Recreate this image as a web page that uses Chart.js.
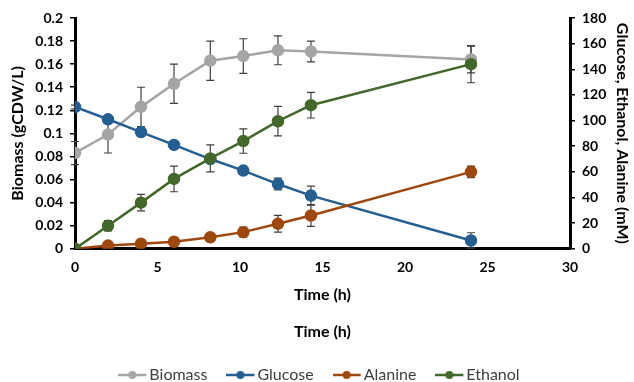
<!DOCTYPE html>
<html>
<head>
<meta charset="utf-8">
<script src="https://cdn.jsdelivr.net/npm/chart.js@4/dist/chart.umd.min.js"></script>
<style>
  html, body { margin: 0; padding: 0; background: #fff; }
  #wrap { width: 634px; height: 382px; }
</style>
</head>
<body>
<div id="wrap"><canvas id="growthChart" width="634" height="382"></canvas></div>
<script>
// Sampling times (h)
const times = [0, 2, 4, 6, 8.2, 10.2, 12.3, 14.3, 24];

// Biomass (gCDW/L), left axis
const biomass = [0.083, 0.099, 0.123, 0.143, 0.163, 0.167, 0.172, 0.171, 0.164];
const biomassErr = [0.010, 0.016, 0.017, 0.017, 0.017, 0.015, 0.0125, 0.009, 0.0115];

// Metabolites (mM), right axis
const glucose = [110.6, 101, 91, 81, 70, 61, 50.5, 41.5, 6.5];
const glucoseErr = [1.5, 2, 3, 1.5, 2, 3, 4.6, 7.4, 6];
const alanine = [0, 2.5, 4, 5.5, 9, 13, 19.5, 26, 60];
const alanineErr = [0, 1, 1, 1, 2.5, 4, 6.5, 8.5, 4.5];
const ethanol = [0, 18, 36, 54.5, 70.5, 84, 99.5, 112, 144];
const ethanolErr = [0, 4, 6.5, 10, 10.5, 9.5, 11.5, 10, 14.5];

const FONT = "Lato, 'Open Sans', sans-serif";

function toPoints(values) {
  return times.map((t, i) => ({ x: t, y: values[i] }));
}

// plain number labels (0.2, 0.18, 0.1 ...)
function plainTick(value) {
  return String(Math.round(value * 1000) / 1000);
}

// little line + dot image for the legend
function legendMarker(color) {
  const c = document.createElement("canvas");
  c.width = 30;
  c.height = 12;
  const g = c.getContext("2d");
  g.strokeStyle = color;
  g.lineWidth = 2.5;
  g.beginPath();
  g.moveTo(0, 6);
  g.lineTo(28, 6);
  g.stroke();
  g.fillStyle = color;
  g.beginPath();
  g.arc(14, 6, 4, 0, Math.PI * 2);
  g.fill();
  return c;
}

// Draws vertical error bars using the chart's own scales
const errorBars = {
  id: "errorBars",
  beforeDatasetsDraw(chart) {
    const ctx = chart.ctx;
    const xScale = chart.scales.x;
    ctx.save();
    ctx.strokeStyle = "#404040";
    ctx.lineWidth = 1.2;
    chart.data.datasets.forEach((ds) => {
      if (!ds.errors) return;
      const yScale = chart.scales[ds.yAxisID];
      ds.data.forEach((p, i) => {
        const e = ds.errors[i];
        if (!e) return;
        const px = xScale.getPixelForValue(p.x);
        const top = yScale.getPixelForValue(p.y + e);
        const bot = yScale.getPixelForValue(p.y - e);
        ctx.beginPath();
        ctx.moveTo(px, top);
        ctx.lineTo(px, bot);
        ctx.moveTo(px - 4, top);
        ctx.lineTo(px + 4, top);
        ctx.moveTo(px - 4, bot);
        ctx.lineTo(px + 4, bot);
        ctx.stroke();
      });
    });
    ctx.restore();
  },
};

function makeSeries(label, values, errors, color, axis, order) {
  return {
    label: label,
    data: toPoints(values),
    errors: errors,
    yAxisID: axis,
    borderColor: color,
    backgroundColor: color,
    pointBackgroundColor: color,
    pointBorderColor: color,
    borderWidth: 2.5,
    pointRadius: 5,
    pointHoverRadius: 5,
    tension: 0,
    order: order,
  };
}

const ctx = document.getElementById("growthChart").getContext("2d");
new Chart(ctx, {
  type: "line",
  data: {
    datasets: [
      makeSeries("Biomass", biomass, biomassErr, "#A5A5A5", "y", 4),
      makeSeries("Glucose", glucose, glucoseErr, "#255E91", "y1", 3),
      makeSeries("Alanine", alanine, alanineErr, "#9E480E", "y1", 2),
      makeSeries("Ethanol", ethanol, ethanolErr, "#43682B", "y1", 1),
    ],
  },
  options: {
    responsive: false,
    animation: false,
    layout: { padding: { top: 18, left: 0, right: 0, bottom: -11 } },
    scales: {
      x: {
        type: "linear",
        min: 0,
        max: 30,
        ticks: {
          stepSize: 5,
          padding: 10,
          color: "#000",
          font: { family: FONT, size: 14, weight: "bold" },
        },
        grid: { display: true, drawOnChartArea: false, drawTicks: false },
        border: { color: "#000", width: 3 },
        title: {
          display: true,
          text: "Time (h)",
          color: "#000",
          font: { family: FONT, size: 16, weight: "bold" },
          padding: { top: 4, bottom: 6 },
        },
        afterFit(scale) {
          scale.height = 62;
        },
      },
      y: {
        position: "left",
        min: 0,
        max: 0.2,
        ticks: {
          stepSize: 0.02,
          padding: 7,
          color: "#000",
          font: { family: FONT, size: 14, weight: "bold" },
          callback: plainTick,
        },
        grid: { drawOnChartArea: false, drawTicks: true, tickLength: 5, color: "#000", lineWidth: 1.5 },
        border: { color: "#000", width: 3 },
        title: {
          display: true,
          text: "Biomass (gCDW/L)",
          color: "#000",
          font: { family: FONT, size: 16, weight: "bold" },
          padding: { top: 8, bottom: 8 },
        },
        afterFit(scale) {
          scale.width = 75;
        },
      },
      y1: {
        position: "right",
        min: 0,
        max: 180,
        ticks: {
          stepSize: 20,
          padding: 7,
          color: "#000",
          font: { family: FONT, size: 14, weight: "bold" },
        },
        grid: { drawOnChartArea: false, drawTicks: true, tickLength: 5, color: "#000", lineWidth: 1.5 },
        border: { color: "#000", width: 3 },
        title: {
          display: true,
          text: "Glucose, Ethanol, Alanine (mM)",
          color: "#000",
          font: { family: FONT, size: 16, weight: "bold" },
          padding: { top: 2, bottom: 2 },
        },
        afterFit(scale) {
          scale.width = 64;
        },
      },
    },
    plugins: {
      tooltip: { enabled: false },
      title: {
        display: true,
        position: "bottom",
        text: "Time (h)",
        color: "#000",
        fullSize: false,
        weight: 500,
        font: { family: FONT, size: 16, weight: "bold" },
        padding: { top: 11, bottom: 0 },
      },
      legend: {
        position: "bottom",
        fullSize: false,
        labels: {
          color: "#404040",
          font: { family: FONT, size: 16 },
          usePointStyle: true,
          padding: 26,
          generateLabels(chart) {
            return chart.data.datasets.map((ds, i) => ({
              text: ds.label,
              pointStyle: legendMarker(ds.borderColor),
              fontColor: "#404040",
              lineWidth: 0,
              strokeStyle: ds.borderColor,
              fillStyle: ds.borderColor,
              hidden: false,
              datasetIndex: i,
            }));
          },
        },
      },
    },
  },
  plugins: [errorBars],
});
</script>
</body>
</html>
